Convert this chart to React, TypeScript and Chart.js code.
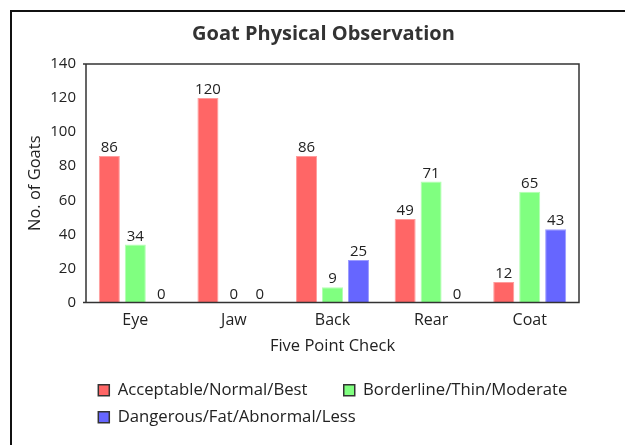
import React, { useEffect, useRef } from "react";
import { Chart, registerables } from "chart.js";

Chart.register(...registerables);

const TITLE = "Goat Physical Observation";
const X_TITLE = "Five Point Check";
const Y_TITLE = "No. of Goats";
const CATEGORIES = ["Eye", "Jaw", "Back", "Rear", "Coat"];
const SERIES_NAMES = [
  "Acceptable/Normal/Best",
  "Borderline/Thin/Moderate",
  "Dangerous/Fat/Abnormal/Less",
];
const ACCEPTABLE = [86, 120, 86, 49, 12];
const BORDERLINE = [34, 0, 9, 71, 65];
const DANGEROUS = [0, 0, 25, 0, 43];
const Y_MIN = 0;
const Y_MAX = 140;
const Y_STEP = 20;

const FILLS = ["#ff6666", "#80ff80", "#6666ff"];
const EDGES = ["#ff9c9c", "#b3ffb3", "#9c9cff"];
const FONT = "'Open Sans', 'Noto Sans', sans-serif";
const TEXT = "#222222";

const W = 623;
const H = 433;

const boxPlugin = {
  id: "plotBox",
  afterDraw(chart: any) {
    const { ctx, chartArea: a } = chart;
    ctx.save();
    ctx.strokeStyle = "#333333";
    ctx.lineWidth = 1.5;
    ctx.beginPath();
    ctx.moveTo(a.left - 3, a.top);
    ctx.lineTo(a.right, a.top);
    ctx.lineTo(a.right, a.bottom);
    ctx.lineTo(a.left - 3, a.bottom);
    ctx.moveTo(a.left, a.top);
    ctx.lineTo(a.left, a.bottom);
    ctx.stroke();
    ctx.restore();
  },
};

const valueLabels = {
  id: "valueLabels",
  afterDatasetsDraw(chart: any) {
    const { ctx } = chart;
    ctx.save();
    ctx.font = `15px ${FONT}`;
    ctx.fillStyle = TEXT;
    ctx.textAlign = "center";
    ctx.textBaseline = "alphabetic";
    chart.data.datasets.forEach((ds: any, i: number) => {
      const meta = chart.getDatasetMeta(i);
      meta.data.forEach((el: any, j: number) => {
        ctx.fillText(String(ds.data[j]), el.x, el.y - 4);
      });
    });
    ctx.restore();
  },
};

const legendShift = {
  id: "legendShift",
  afterLayout(chart: any) {
    const lg = chart.legend;
    if (!lg) return;
    const dx = 76 - lg.left;
    lg.left += dx;
    lg.right += dx;
  },
};

export default function App() {
  const ref = useRef<HTMLCanvasElement | null>(null);

  useEffect(() => {
    if (!ref.current) return;
    const series = [ACCEPTABLE, BORDERLINE, DANGEROUS];
    const chart = new Chart(ref.current, {
      type: "bar",
      data: {
        labels: CATEGORIES,
        datasets: series.map((d, i) => ({
          label: SERIES_NAMES[i],
          data: d,
          backgroundColor: FILLS[i],
          borderColor: EDGES[i],
          borderWidth: 1,
          categoryPercentage: 0.79,
          barPercentage: 0.81,
          yAxisID: "y",
        })),
      },
      options: {
        responsive: false,
        animation: false,
        layout: { padding: { left: 0, right: 0, top: 0, bottom: 9.5 } },
        plugins: {
          title: {
            display: true,
            text: TITLE,
            color: "#333333",
            font: { family: FONT, size: 20, weight: "bold" },
            padding: { top: 10, bottom: 18 },
          },
          legend: {
            display: true,
            position: "bottom",
            align: "start",
            labels: {
              color: TEXT,
              font: { family: FONT, size: 16.7 },
              boxWidth: 11,
              boxHeight: 11,
              padding: 10.3,
              generateLabels(c: any) {
                const items = Chart.defaults.plugins.legend.labels.generateLabels(c);
                return items.map((it: any, i: number) => ({
                  ...it,
                  text: i === 0 ? it.text + "      " : it.text,
                  strokeStyle: "#333333",
                  lineWidth: 1.5,
                }));
              },
            },
          },
          tooltip: { enabled: false },
        },
        scales: {
          x: {
            grid: { display: false, drawTicks: false },
            border: { display: false },
            ticks: { color: TEXT, font: { family: FONT, size: 16 }, padding: 8 },
            title: {
              display: true,
              text: X_TITLE,
              color: TEXT,
              font: { family: FONT, size: 16.5 },
              padding: { top: 0, bottom: 15 },
            },
            afterFit(s: any) {
              s.height = 69;
            },
          },
          y: {
            min: Y_MIN,
            max: Y_MAX,
            grid: { display: false, drawTicks: false },
            border: { display: false },
            ticks: {
              stepSize: Y_STEP,
              color: TEXT,
              font: { family: FONT, size: 15 },
              padding: 10,
            },
            title: {
              display: true,
              text: Y_TITLE,
              color: TEXT,
              font: { family: FONT, size: 16.5 },
              padding: { top: 13, bottom: 0 },
            },
            afterFit(s: any) {
              s.width = 74;
            },
          },
          yRight: {
            position: "right",
            display: true,
            min: Y_MIN,
            max: Y_MAX,
            grid: { display: false, drawTicks: false },
            border: { display: false },
            ticks: { display: false },
            afterFit(s: any) {
              s.width = 56;
            },
          },
        },
      },
      plugins: [boxPlugin, valueLabels, legendShift],
    } as any);
    return () => chart.destroy();
  }, []);

  return (
    <div
      style={{
        position: "fixed",
        left: 10,
        top: 10,
        width: 700,
        height: 500,
        borderLeft: "2px solid #111",
        borderTop: "2px solid #111",
        background: "#fff",
      }}
    >
      <canvas
        ref={ref}
        width={W}
        height={H}
        style={{ display: "block", width: W, height: H }}
      />
    </div>
  );
}
